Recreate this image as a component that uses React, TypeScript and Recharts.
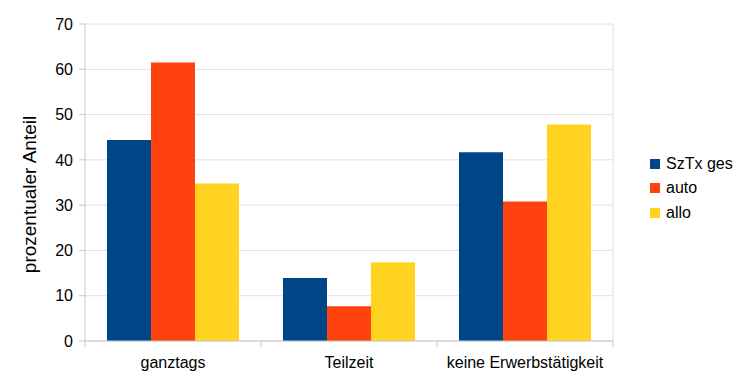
import React from 'react';
import { BarChart, Bar, XAxis, YAxis, CartesianGrid, Legend } from 'recharts';

const categories = ['ganztags', 'Teilzeit', 'keine Erwerbstätigkeit'];
const sztxGes = [44.4, 13.9, 41.7];
const auto = [61.5, 7.7, 30.8];
const allo = [34.8, 17.4, 47.8];
const yTicks = [0, 10, 20, 30, 40, 50, 60, 70];

const seriesNames = ['SzTx ges', 'auto', 'allo'];
const seriesColors = ['#004586', '#ff420e', '#ffd320'];

const data = categories.map((c, i) => ({
  name: c,
  s0: sztxGes[i],
  s1: auto[i],
  s2: allo[i],
}));

const FONT = '"Liberation Sans", Arial, sans-serif';
const AXIS_COLOR = '#c8c8c8';
const GRID_COLOR = '#e0e0e0';
const TICK_MARGIN = 10;

const XTick = (props: any) => {
  const { x, y, payload, index, visibleTicksCount } = props;
  const off = payload.offset || 0;
  const axisY = y - 6 - TICK_MARGIN;
  const last = index === visibleTicksCount - 1;
  return (
    <g>
      <line x1={x - off} x2={x - off} y1={axisY} y2={axisY + 6} stroke={AXIS_COLOR} />
      {last && <line x1={x + off} x2={x + off} y1={axisY} y2={axisY + 6} stroke={AXIS_COLOR} />}
      <text x={x} y={y} dy="0.71em" textAnchor="middle" fill="#000" fontSize={16} fontFamily={FONT}>
        {payload.value}
      </text>
    </g>
  );
};

const LegendContent = () => (
  <div style={{ paddingLeft: 37, fontFamily: FONT, fontSize: 16, color: '#000' }}>
    {seriesNames.map((n, i) => (
      <div key={n} style={{ height: 24.5, display: 'flex', alignItems: 'center' }}>
        <span style={{ display: 'inline-block', width: 10, height: 10, background: seriesColors[i], marginRight: 6 }} />
        <span>{n}</span>
      </div>
    ))}
  </div>
);

const YLabel = (props: any) => {
  const { viewBox } = props;
  const cx = viewBox.x + 29;
  const cy = viewBox.y + viewBox.height / 2 + 12;
  return (
    <text
      x={cx}
      y={cy}
      transform={`rotate(-90 ${cx} ${cy})`}
      textAnchor="middle"
      dominantBaseline="central"
      fill="#000"
      fontSize={19}
      fontFamily={FONT}
    >
      prozentualer Anteil
    </text>
  );
};

export default function App() {
  return (
    <div style={{ position: 'absolute', left: 0, top: 0, background: '#fff' }}>
      <BarChart
        width={744}
        height={390}
        data={data}
        margin={{ top: 24, right: 0, bottom: 0, left: 0 }}
        barCategoryGap="12.5%"
        barGap={0}
      >
        <CartesianGrid
          stroke={GRID_COLOR}
          vertical={true}
          verticalCoordinatesGenerator={(p: any) => [p.offset.left + p.offset.width]}
        />
        <XAxis
          dataKey="name"
          height={49}
          tickSize={6}
          tickMargin={TICK_MARGIN}
          tickLine={false}
          axisLine={{ stroke: AXIS_COLOR }}
          tick={<XTick />}
          interval={0}
        />
        <YAxis
          width={85}
          domain={[0, 70]}
          ticks={yTicks}
          tickSize={6}
          tickMargin={6}
          tickLine={{ stroke: AXIS_COLOR }}
          axisLine={{ stroke: AXIS_COLOR }}
          tick={{ fill: '#000', fontSize: 16, fontFamily: FONT }}
          label={<YLabel />}
        />
        <Legend
          layout="vertical"
          align="right"
          verticalAlign="middle"
          content={<LegendContent />}
          wrapperStyle={{ width: 131, top: 151.5, right: 0 }}
        />
        {seriesNames.map((n, i) => (
          <Bar key={n} dataKey={`s${i}`} name={n} fill={seriesColors[i]} isAnimationActive={false} />
        ))}
      </BarChart>
    </div>
  );
}
